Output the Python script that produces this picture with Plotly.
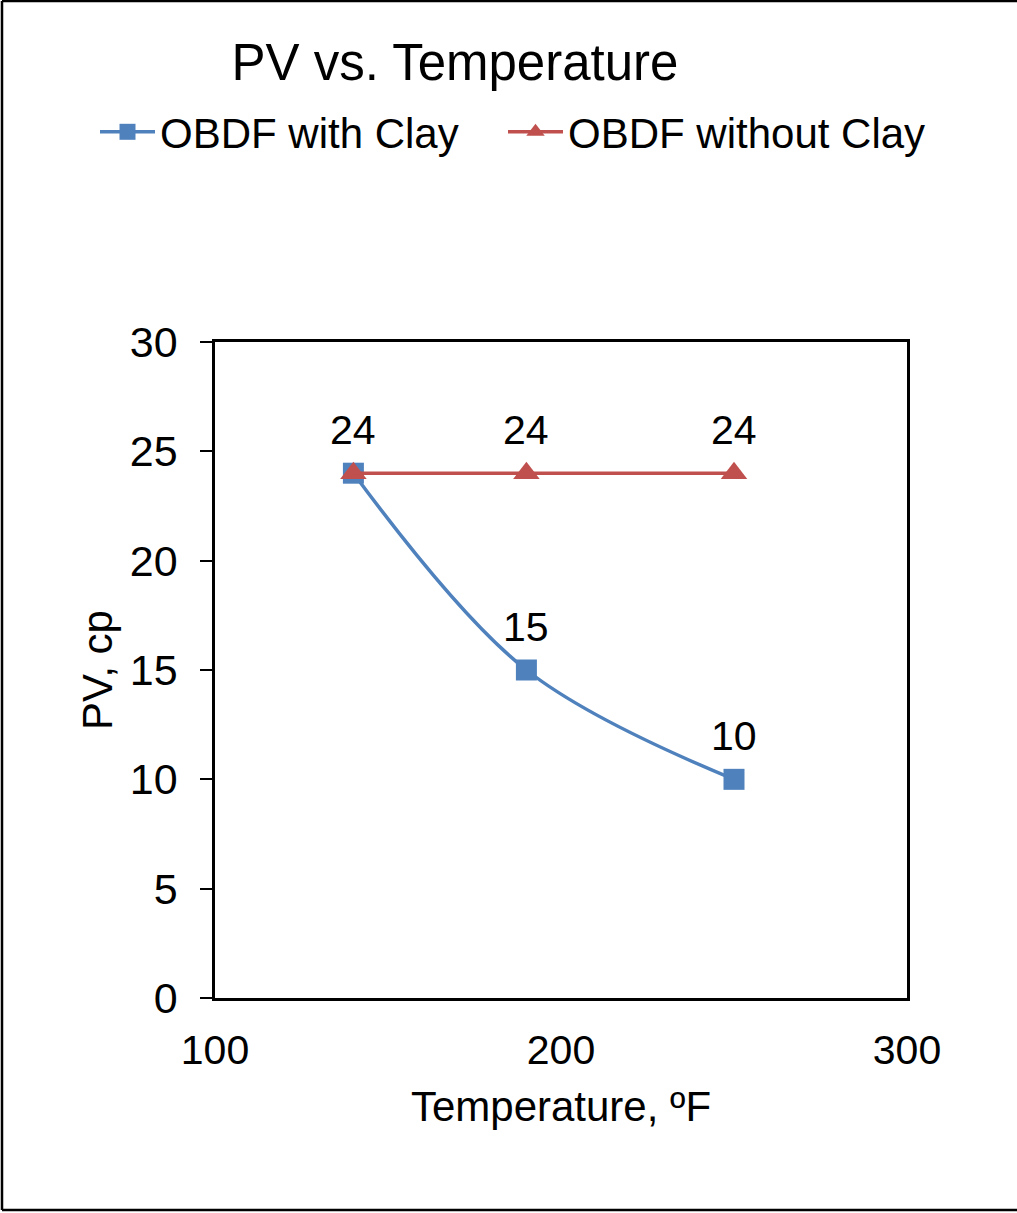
import plotly.graph_objects as go

# Plastic viscosity of oil-based drilling fluid at three test temperatures
temperature_f = [140, 190, 250]
pv_with_clay = [24, 15, 10]
pv_without_clay = [24, 24, 24]

series_names = ["OBDF with Clay", "OBDF without Clay"]
chart_title = "PV vs. Temperature"
x_title = "Temperature, ºF"
y_title = "PV, cp"

BLUE = "#4F81BD"
RED = "#C0504D"
FONT = "Liberation Sans, Arial, sans-serif"

W, H = 1017, 1213
L, R, T, B = 215, 110, 342, 215  # plot area 215..907 x 342..998

fig = go.Figure()

fig.add_trace(go.Scatter(
    x=temperature_f, y=pv_with_clay, name=series_names[0],
    mode="lines+markers",
    line=dict(color=BLUE, width=3.5, shape="spline", smoothing=1.0),
    marker=dict(symbol="square", size=21, color=BLUE),
    cliponaxis=False, legend="legend",
))
fig.add_trace(go.Scatter(
    x=temperature_f, y=pv_without_clay, name=series_names[1],
    mode="lines+markers",
    line=dict(color=RED, width=3.5),
    marker=dict(symbol="triangle-up", size=23, color=RED),
    cliponaxis=False, legend="legend2",
))

# value labels above each point; the shared first point is labelled once
labelled = {}
for xs, ys in ((temperature_f, pv_with_clay), (temperature_f, pv_without_clay)):
    for xv, yv in zip(xs, ys):
        labelled[(xv, yv)] = str(yv)
for (xv, yv), txt in labelled.items():
    fig.add_annotation(x=xv, y=yv, text=txt, showarrow=False,
                       xanchor="center", yanchor="middle", yshift=43,
                       font=dict(size=41, family=FONT, color="black"))

def px_x(px):
    return (px - L) / (W - L - R)

def px_y(py):
    return (H - B - py) / (H - T - B)

# outer frame: left, top and bottom edges
frame = dict(type="line", xref="paper", yref="paper", line=dict(color="#000000", width=2.5))
fig.add_shape(**frame, x0=px_x(2), x1=px_x(2), y0=px_y(1), y1=px_y(1210))
fig.add_shape(**frame, x0=px_x(2), x1=px_x(1017), y0=px_y(1), y1=px_y(1))
fig.add_shape(**frame, x0=px_x(2), x1=px_x(1017), y0=px_y(1210), y1=px_y(1210))

legend_style = dict(orientation="h", xanchor="left", y=px_y(132), yanchor="middle",
                    font=dict(size=42, family=FONT, color="black"),
                    itemwidth=55, bgcolor="rgba(0,0,0,0)")

fig.update_layout(
    width=W, height=H,
    margin=dict(l=L, r=R, t=T, b=B, autoexpand=False),
    paper_bgcolor="white", plot_bgcolor="white",
    font=dict(family=FONT, size=42, color="black"),
    title=dict(text=chart_title, x=455 / W, xanchor="center",
               y=1 - 62 / H, yanchor="middle",
               font=dict(size=51, family=FONT, color="black")),
    showlegend=True,
    legend=dict(x=px_x(95), **legend_style),
    legend2=dict(x=px_x(503), **legend_style),
    xaxis=dict(range=[100, 300], tickvals=[100, 200, 300],
               showgrid=False, zeroline=False, ticks="",
               showline=True, linecolor="black", linewidth=2.5, mirror=True,
               tickfont=dict(size=41, family=FONT, color="black"),
               ticklabelstandoff=14,
               title=dict(text=x_title, standoff=20,
                          font=dict(size=42, family=FONT, color="black")),
               automargin=False, fixedrange=True),
    yaxis=dict(range=[0, 30], dtick=5,
               showgrid=False, zeroline=False,
               ticks="outside", ticklen=12, tickwidth=2, tickcolor="black",
               showline=True, linecolor="black", linewidth=2.5, mirror=True,
               tickfont=dict(size=43, family=FONT, color="black"),
               ticklabelstandoff=14,
               title=dict(text=y_title, standoff=5,
                          font=dict(size=42, family=FONT, color="black")),
               automargin=False, fixedrange=True),
)

fig.write_html("out.html", config={"displayModeBar": False})
